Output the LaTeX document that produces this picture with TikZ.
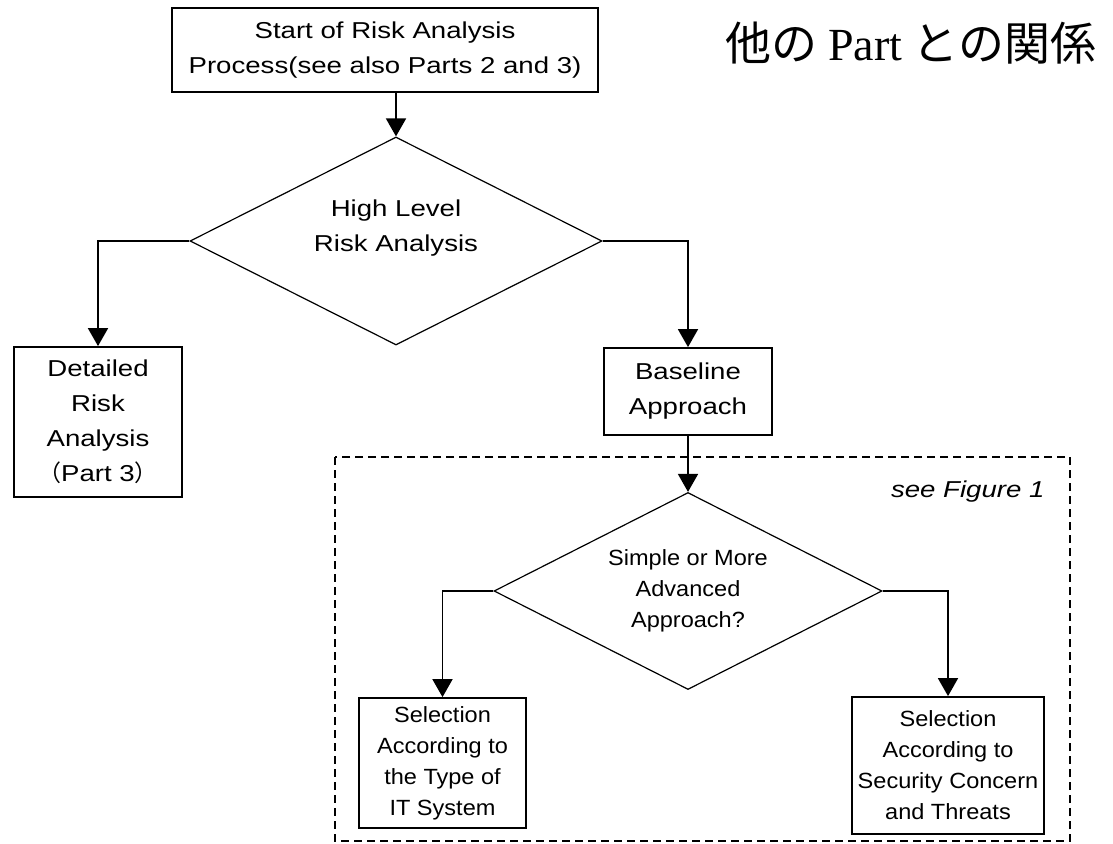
\documentclass[tikz,border=0pt]{standalone}
\usepackage{fontspec}
\setmainfont{Liberation Sans}
\newfontfamily\boxfont[FakeStretch=1.2]{Liberation Sans}
\newfontfamily\smallboxfont[FakeStretch=1.07]{Liberation Sans}
\newfontfamily\jpfont{Noto Sans CJK JP}
\newfontfamily\titleserif{Liberation Serif}
\usetikzlibrary{shapes.geometric,arrows.meta}

\begin{document}
\begin{tikzpicture}[x=1pt,y=-1pt,
  upper/.style={font=\boxfont\fontsize{23}{35}\selectfont},
  lower/.style={font=\smallboxfont\fontsize{22}{31}\selectfont},
  procbox/.style={draw,line width=1.8pt,inner sep=0pt,align=center},
  decision/.style={draw,diamond,aspect=2,line width=1.2pt,inner sep=0pt,align=center},
  flow/.style={line width=1.8pt,-{Triangle[width=20pt,length=18pt]}},
  frame/.style={line width=1.6pt,dash pattern=on 8pt off 5pt}]
\useasboundingbox (0,0) rectangle (1113,843);

% title
\node[font=\fontsize{46}{50}\selectfont] (title) at (911,43)
  {\jpfont 他の {\titleserif Part} との関係};

% upper part of the process
\node[procbox,upper,minimum width=426pt,minimum height=84pt] (start) at (385,50)
  {Start of Risk Analysis\\Process(see also Parts 2 and 3)};
\node[decision,minimum width=412pt,minimum height=208pt] (hla) at (396,241) {};
\node[upper,align=center] (hlatext) at (396,228) {High Level\\Risk Analysis};
\node[procbox,upper,minimum width=168pt,minimum height=150pt] (detail) at (98,422)
  {Detailed\\Risk\\Analysis\\{\jpfont （}Part 3{\jpfont ）}};
\node[procbox,upper,minimum width=168pt,minimum height=87pt] (base) at (688,391.5)
  {Baseline\\Approach};

% baseline approach detail (dashed frame)
\draw[frame] (335,457) rectangle (1070,841);
\node[anchor=east,font=\boxfont\itshape\fontsize{23}{28}\selectfont] (seefig) at (1048,492)
  {see Figure 1};
\node[decision,lower,minimum width=388pt,minimum height=197pt] (adv) at (688,591)
  {Simple or More\\Advanced\\Approach?};
\node[procbox,lower,minimum width=167pt,minimum height=130pt] (bytype) at (442.5,763)
  {Selection\\According to\\the Type of\\IT System};
\node[procbox,lower,minimum width=192pt,minimum height=137pt] (bythreat) at (948,765.5)
  {Selection\\According to\\Security Concern\\and Threats};

% connectors
\draw[flow] (start.south -| hla.north) -- (hla.north);
\draw[flow] (hla.west) -| (detail.north);
\draw[flow] (hla.east) -| (base.north);
\draw[flow] (base.south) -- (adv.north);
\draw[flow] (adv.west) -| (bytype.north);
\draw[flow] (adv.east) -| (bythreat.north);
\end{tikzpicture}
\end{document}
